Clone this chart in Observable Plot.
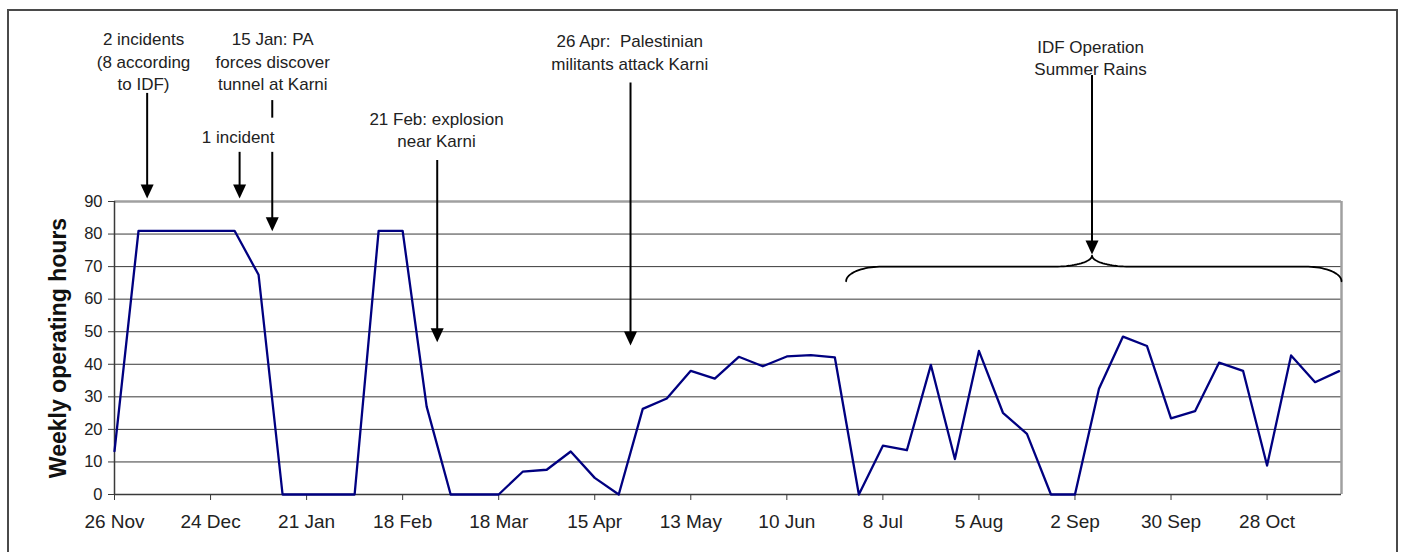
<!DOCTYPE html>
<html>
<head>
<meta charset="utf-8">
<script src="https://cdn.jsdelivr.net/npm/d3@7"></script>
<script src="https://cdn.jsdelivr.net/npm/@observablehq/plot@0.6"></script>
<style>
  html, body { margin: 0; padding: 0; background: #fff; overflow: hidden; }
  #wrap { position: relative; width: 1407px; height: 552px; }
  #frame { position: absolute; left: 7px; top: 9px; width: 1391px; height: 600px; border: 2px solid #4a4a4a; box-sizing: border-box; pointer-events: none; }
  svg { display: block; }
</style>
</head>
<body>
<div id="wrap"><div id="frame"></div><div id="chart"></div></div>
<script>
// Weekly operating hours at Karni crossing, one value per week starting 26 Nov
const hours = [13.3, 81, 81, 81, 81, 81, 67.5, 0, 0, 0, 0, 81, 81, 27, 0, 0, 0,
  7.0, 7.6, 13.2, 5.1, 0, 26.3, 29.5, 38.0, 35.6, 42.3, 39.4, 42.4, 42.8, 42.1,
  0, 15.0, 13.6, 39.8, 10.9, 44.1, 25.1, 18.6, 0, 0, 32.5, 48.5, 45.6, 23.4,
  25.6, 40.5, 38.0, 8.9, 42.7, 34.5, 37.9];

const tickWeeks = [0, 4, 8, 12, 16, 20, 24, 28, 32, 36, 40, 44, 48];
const tickLabels = ["26 Nov", "24 Dec", "21 Jan", "18 Feb", "18 Mar", "15 Apr",
  "13 May", "10 Jun", "8 Jul", "5 Aug", "2 Sep", "30 Sep", "28 Oct"];
const yTicks = [0, 10, 20, 30, 40, 50, 60, 70, 80, 90];
const yLabel = "Weekly operating hours";

// Annotations (in week / hour units)
const noteTexts = ["2 incidents\n(8 according\nto IDF)", "15 Jan: PA\nforces discover\ntunnel at Karni",
  "1 incident", "21 Feb: explosion\nnear Karni", "26 Apr:  Palestinian\nmilitants attack Karni",
  "IDF Operation\nSummer Rains"];
const noteWeeks = [1.21, 6.59, 5.15, 13.41, 21.46, 40.65];
const noteHours = [133.3, 133.3, 110.3, 112.3, 136.1, 134.5];

// Arrow shafts: the 15 Jan arrow is split around the "1 incident" label
const shaftWeeks = [1.36, 5.21, 6.57, 6.57, 13.44, 21.49, 40.71];
const shaftTop = [123.2, 105.1, 121.0, 105.1, 102.6, 126.4, 128.7];
const shaftEnd = [93, 93, 115.6, 83, 49, 48, 76];

const tipWeeks = [1.36, 5.21, 6.57, 13.44, 21.49, 40.71];
const tipHours = [90.9, 90.9, 80.9, 46.8, 45.8, 73.7];

// Brace over IDF Operation Summer Rains
const braceStart = 30.47, braceEnd = 51.1, braceMid = 40.71;
const braceLow = 65.5, braceFlat = 70.0, braceTip = 73.4;
const hookR = 1.5, tipR = 1.55;

function bracePoints() {
  const pts = [];
  const n = 20;
  for (let i = 0; i <= n; i++) { const t = i / n * Math.PI / 2;
    pts.push([braceStart + hookR - hookR * Math.cos(t), braceLow + (braceFlat - braceLow) * Math.sin(t)]); }
  for (let i = 0; i <= n; i++) { const t = i / n * Math.PI / 2;
    pts.push([braceMid - tipR + tipR * Math.sin(t), braceTip - (braceTip - braceFlat) * Math.cos(t)]); }
  for (let i = 0; i <= n; i++) { const t = i / n * Math.PI / 2;
    pts.push([braceMid + tipR - tipR * Math.cos(t), braceTip - (braceTip - braceFlat) * Math.sin(t)]); }
  for (let i = 0; i <= n; i++) { const t = i / n * Math.PI / 2;
    pts.push([braceEnd - hookR + hookR * Math.sin(t), braceLow + (braceFlat - braceLow) * Math.cos(t)]); }
  return pts;
}

const data = hours.map((h, i) => ({week: i, hours: h}));
const notes = noteTexts.map((t, i) => ({text: t, x: noteWeeks[i], y: noteHours[i]}));
const shafts = shaftWeeks.map((x, i) => ({x, y1: shaftTop[i], y2: shaftEnd[i]}));
const tips = tipWeeks.map((x, i) => ({x, y: tipHours[i]}));

const downTriangle = {
  draw(context) {
    context.moveTo(0, 0);
    context.lineTo(-6.5, -14);
    context.lineTo(6.5, -14);
    context.closePath();
  }
};

const xMax = 51.1;
const chart = Plot.plot({
  width: 1407,
  height: 552,
  marginLeft: 114,
  marginRight: 66,
  marginTop: 201,
  marginBottom: 58,
  style: {fontFamily: "'Liberation Sans', Arial, sans-serif", color: "#222", background: "transparent"},
  x: {type: "linear", domain: [0, xMax]},
  y: {domain: [0, 90]},
  marks: [
    Plot.ruleY(yTicks.filter(d => d > 0 && d < 90), {stroke: "#3a3a3a", strokeWidth: 1}),
    Plot.ruleY([90], {stroke: "#a0a0a0", strokeWidth: 2.5}),
    Plot.ruleX([xMax], {y1: 0, y2: 90, stroke: "#a0a0a0", strokeWidth: 2.5}),
    Plot.ruleY([0], {stroke: "#3a3a3a", strokeWidth: 1.5}),
    Plot.ruleX([0], {y1: 0, y2: 90, stroke: "#3a3a3a", strokeWidth: 1.5}),
    Plot.axisX({ticks: tickWeeks, tickFormat: d => tickLabels[tickWeeks.indexOf(d)], tickSize: 6, tickPadding: 14,
      fontSize: 19, stroke: "#3a3a3a", label: null}),
    Plot.axisY({ticks: yTicks, tickSize: 6, tickPadding: 6, fontSize: 16.5, stroke: "#3a3a3a", label: null}),
    Plot.text([yLabel], {frameAnchor: "left", textAnchor: "middle", rotate: -90, dx: -56, fontSize: 23, fontWeight: "bold", fill: "#111"}),
    Plot.line(data, {x: "week", y: "hours", stroke: "#000080", strokeWidth: 2.3}),
    Plot.line(bracePoints(), {x: d => d[0], y: d => d[1], stroke: "#000", strokeWidth: 1.8}),
    Plot.ruleX(shafts, {x: "x", y1: "y1", y2: "y2", stroke: "#000", strokeWidth: 2}),
    Plot.dot(tips, {x: "x", y: "y", symbol: downTriangle, fill: "#000", stroke: null}),
    Plot.text(notes, {x: "x", y: "y", text: "text", fontSize: 17, lineHeight: 1.32, fill: "#222", lineAnchor: "middle"})
  ]
});
document.getElementById("chart").appendChild(chart);
</script>
</body>
</html>
